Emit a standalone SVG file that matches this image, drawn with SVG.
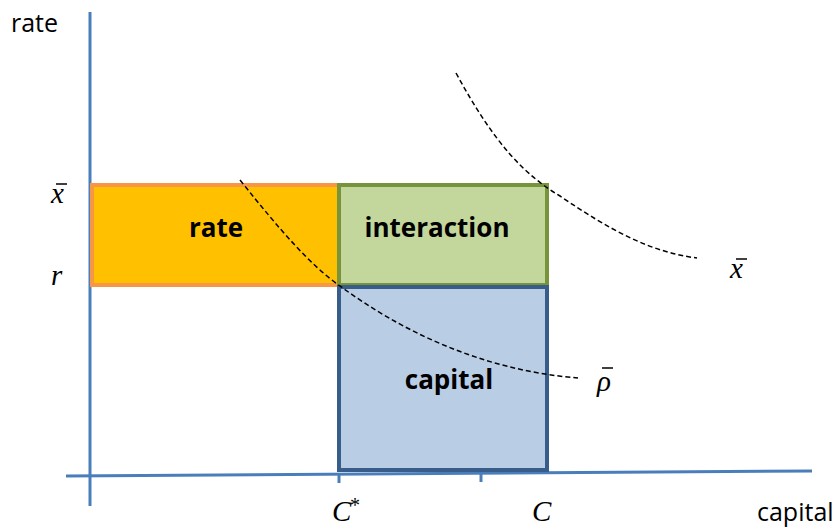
<svg xmlns="http://www.w3.org/2000/svg" width="840" height="527" viewBox="0 0 840 527">
<style>
.ax{stroke:#4A7EBB;stroke-width:3;fill:none}
.lbl{font-family:"Open Sans","Liberation Sans",sans-serif;font-size:25px;fill:#000}
.bold{font-family:"Open Sans","Liberation Sans",sans-serif;font-size:26px;font-weight:bold;fill:#000;text-anchor:middle}
.math{font-family:"Liberation Serif","DejaVu Serif",serif;font-style:italic;font-size:29px;fill:#000}
.bar{stroke:#000;stroke-width:1.5}
.dash{stroke:#000;stroke-width:1.5;stroke-dasharray:5,3;fill:none}
</style>
<rect width="840" height="527" fill="#fff"/>
<g id="axes">
<line class="ax" x1="90" y1="12" x2="90" y2="506"/>
<line class="ax" x1="66" y1="476" x2="812" y2="471"/>
<line class="ax" x1="339" y1="474" x2="339" y2="483" stroke-width="2"/>
<line class="ax" x1="481" y1="473" x2="481" y2="482" stroke-width="2"/>
</g>
<g id="rate-box">
<rect x="92" y="185" width="248" height="100" fill="#FFC000" stroke="#F79646" stroke-width="4"/>
<text class="bold" x="216" y="237">rate</text>
</g>
<g id="interaction-box">
<rect x="339" y="185" width="208" height="100" fill="#C3D69B" stroke="#77933C" stroke-width="4"/>
<text class="bold" x="437" y="237">interaction</text>
</g>
<g id="capital-box">
<rect x="339" y="287" width="208" height="183" fill="#B9CDE5" stroke="#385D8A" stroke-width="4"/>
<text class="bold" x="449" y="389">capital</text>
</g>
<g id="connectors">
<path class="dash" d="M240,180 C280,230 310,265 340,286 C400,330 480,370 578,378"/>
<path class="dash" d="M456,73 C495,145 525,175 560,196 C610,230 650,252 697,258"/>
</g>
<g id="labels">
<text class="lbl" x="11" y="32">rate</text>
<text class="lbl" x="757" y="521" font-size="24">capital</text>
<text class="math" x="51" y="203">x</text>
<line class="bar" x1="56" y1="184" x2="67" y2="184"/>
<text class="math" x="51" y="285">r</text>
<text class="math" x="332" y="521">C</text>
<text x="350" y="512" font-family="Liberation Serif,serif" font-size="20" fill="#000">*</text>
<text class="math" x="532" y="521">C</text>
<text class="math" x="597" y="391">ρ</text>
<line class="bar" x1="602" y1="368" x2="613" y2="368"/>
<text class="math" x="730" y="278">x</text>
<line class="bar" x1="736" y1="259" x2="747" y2="259"/>
</g>
</svg>
